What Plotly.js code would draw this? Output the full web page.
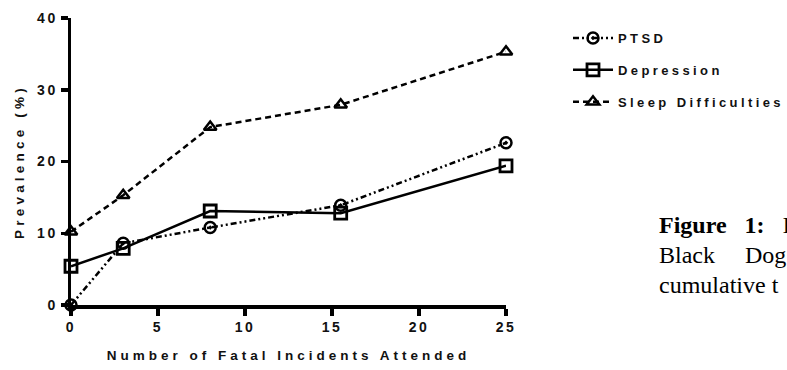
<!DOCTYPE html>
<html><head><meta charset="utf-8">
<script src="https://cdn.plot.ly/plotly-3.0.1.min.js"></script>
<style>
html,body{margin:0;padding:0;background:#fff;overflow:hidden;}
#chart{width:787px;height:370px;}
.xtick text,.ytick text{letter-spacing:2.5px;}
.g-xtitle text{letter-spacing:4px;}
.g-ytitle text{letter-spacing:4.2px;}
.legendtext{letter-spacing:3.4px;}
</style>
</head><body>
<div id="chart"></div>
<script>
const incidents = [0, 3, 8, 15.5, 25];
const ptsd = [0, 8.6, 10.8, 13.9, 22.6];
const depression = [5.4, 7.9, 13.1, 12.8, 19.4];
const sleep = [10.2, 15.3, 24.8, 27.9, 35.3];
const seriesNames = ['PTSD', 'Depression', 'Sleep Difficulties'];
const captionLines = ['<b>Figure&nbsp;&nbsp; 1:</b>&nbsp;&nbsp; I', 'Black&nbsp;&nbsp;&nbsp;&nbsp; Dog', 'cumulative t'];

const base = {type:'scatter', mode:'lines+markers', x:incidents, cliponaxis:false};
const traces = [
  Object.assign({}, base, {y:ptsd, name:seriesNames[0], legendgroup:'a',
    line:{color:'#000', width:2.5, dash:'6px,3px,2px,3px,2px,3px'},
    marker:{symbol:'circle-open-dot', size:11, color:'#000', line:{width:2.5, color:'#000'}}}),
  Object.assign({}, base, {y:depression, name:seriesNames[1], legendgroup:'b',
    line:{color:'#000', width:2.5},
    marker:{symbol:'square-open', size:12, color:'#000', line:{width:2.8, color:'#000'}}}),
  Object.assign({}, base, {y:sleep, name:seriesNames[2], legendgroup:'c',
    line:{color:'#000', width:2.5, dash:'6px,4px'},
    marker:{symbol:'triangle-up-open', size:11, color:'#000', line:{width:2.5, color:'#000'}}})
];

const axFont = {family:'Liberation Sans, Arial, sans-serif', size:13.5, color:'#111'};
const plotL = 71, plotW = 435, plotT = 18, plotH = 287;
const layout = {
  width:787, height:370,
  margin:{l:plotL, r:787-plotL-plotW, t:plotT, b:370-plotT-plotH},
  paper_bgcolor:'#fff', plot_bgcolor:'#fff',
  showlegend:true,
  legend:{xref:'container', yref:'container', x:568/787, y:1-23/370, xanchor:'left', yanchor:'top', tracegroupgap:12,
    font:{family:'Liberation Sans, Arial, sans-serif', size:13, color:'#111', weight:'bold'},
    itemwidth:40, bgcolor:'rgba(0,0,0,0)'},
  xaxis:{range:[0,25], tickvals:[0,5,10,15,20,25], showgrid:false, zeroline:false,
    showline:true, linecolor:'#000', linewidth:3.5, ticks:'outside', ticklen:7, tickwidth:3.5, tickcolor:'#000',
    tickfont:Object.assign({}, axFont, {size:14, weight:'bold'}),
    title:{text:'<b>Number of Fatal Incidents Attended</b>', font:axFont, standoff:17}},
  yaxis:{range:[0,40], tickvals:[0,10,20,30,40], showgrid:false, zeroline:false,
    showline:true, linecolor:'#000', linewidth:3.5, ticks:'outside', ticklen:7, tickwidth:3.5, tickcolor:'#000',
    tickfont:Object.assign({}, axFont, {size:14, weight:'bold'}),
    title:{text:'<b>Prevalence (%)</b>', font:axFont, standoff:10}},
  annotations: captionLines.map((t,i)=>({
    xref:'paper', yref:'paper', x:(657-plotL)/plotW, y:(plotT+plotH-(225+i*30))/plotH, xanchor:'left', yanchor:'middle',
    text:t, showarrow:false, align:'left',
    font:{family:'Liberation Serif, Times New Roman, serif', size:24, color:'#000'}
  }))
};
Plotly.newPlot('chart', traces, layout, {staticPlot:true, displayModeBar:false});
</script>
</body></html>
